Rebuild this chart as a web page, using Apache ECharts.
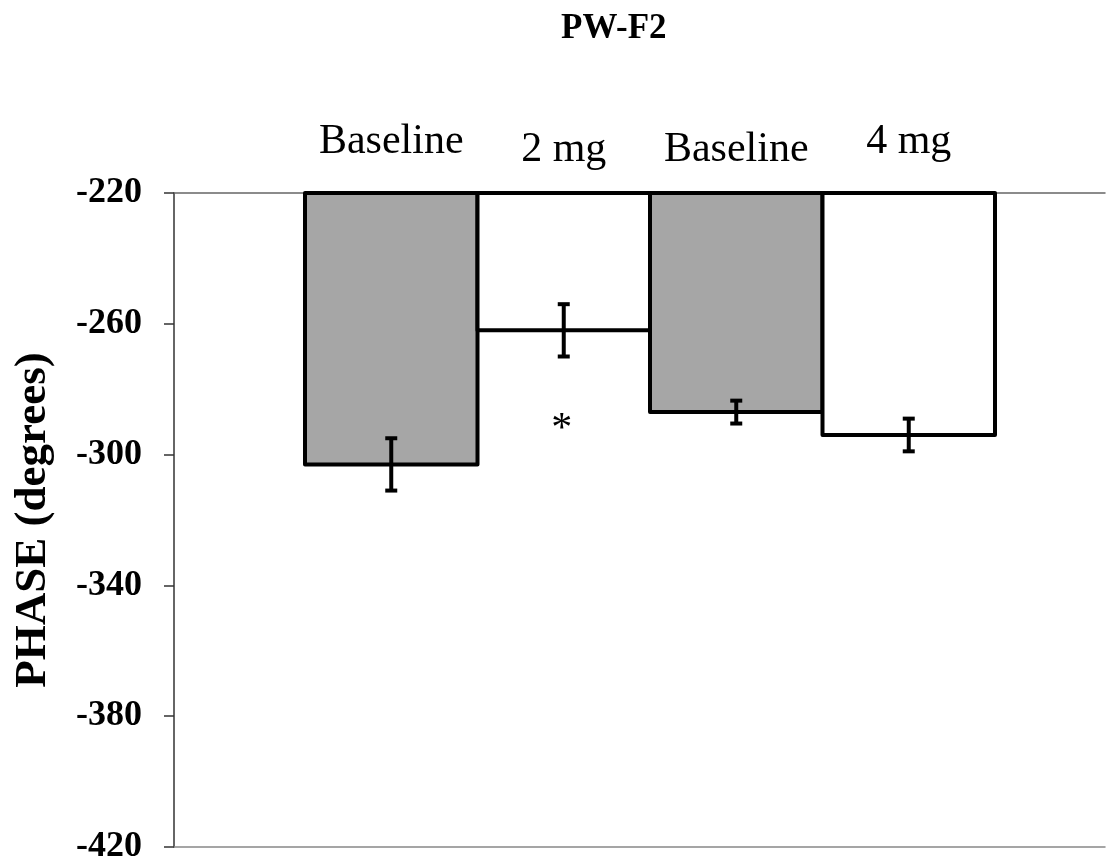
<!DOCTYPE html>
<html><head><meta charset="utf-8">
<script src="https://cdn.jsdelivr.net/npm/echarts@6/dist/echarts.min.js"></script>
<style>html,body{margin:0;padding:0;background:#fff}#c{width:1118px;height:867px}</style>
</head><body><div id="c"></div>
<script>
// ---- data ----
const chartTitle = 'PW-F2';
const categories = ['Baseline', '2 mg', 'Baseline', '4 mg'];
const phaseMeans = [-303, -262, -287, -294];
const phaseErrors = [8, 8, 3.5, 5];
const significance = ['', '*', '', ''];
const yTicks = [-420, -380, -340, -300, -260, -220];
const yAxisName = 'PHASE (degrees)';

// ---- styles ----
const barFills = ['#a6a6a6', '#ffffff', '#a6a6a6', '#ffffff'];
const labelLift = [1, 0, 0, 1];
const FONT = "'Liberation Serif', 'Times New Roman', serif";

const yMin = yTicks[0], yMax = yTicks[yTicks.length - 1], yStep = yTicks[1] - yTicks[0];

const chart = echarts.init(document.getElementById('c'), null, {renderer: 'canvas'});
const seriesData = categories.map((c, i) => [i, phaseMeans[i], phaseErrors[i]]);

chart.setOption({
  backgroundColor: '#ffffff',
  animation: false,
  title: {
    text: chartTitle, left: 556, top: 6,
    textStyle: {fontFamily: FONT, fontWeight: 'bold', fontSize: 35, color: '#000'}
  },
  grid: [
    {left: 174, right: 13, top: 193, bottom: 20},
    {left: 305, right: 123, top: 193, bottom: 20}
  ],
  xAxis: [
    {gridIndex: 0, type: 'category', data: [''], position: 'bottom',
      axisLine: {show: true, lineStyle: {color: '#888', width: 1.5}},
      axisTick: {show: false}, axisLabel: {show: false}},
    {gridIndex: 0, type: 'category', data: [''], position: 'top',
      axisLine: {show: true, lineStyle: {color: '#666', width: 1.5}},
      axisTick: {show: false}, axisLabel: {show: false}},
    {gridIndex: 1, type: 'category', data: categories, position: 'top',
      axisLine: {show: false}, axisTick: {show: false},
      axisLabel: {
        show: true, margin: 22, interval: 0,
        formatter: (v, i) => labelLift[i] ? '{hi|' + v + '}' : '{lo|' + v + '}',
        rich: {
          hi: {fontFamily: FONT, fontSize: 42, color: '#000', padding: [0, 0, 8, 0]},
          lo: {fontFamily: FONT, fontSize: 42, color: '#000', padding: [0, 0, 0, 0]}
        }
      }}
  ],
  yAxis: [
    {gridIndex: 0, type: 'value', min: yMin, max: yMax, interval: yStep,
      name: yAxisName, nameLocation: 'middle', nameGap: 118, nameRotate: 90,
      nameTextStyle: {fontFamily: FONT, fontWeight: 'bold', fontSize: 45, color: '#000'},
      axisLine: {show: true, lineStyle: {color: '#333', width: 1.5}},
      axisTick: {show: true, inside: false, length: 10, lineStyle: {color: '#333', width: 1.5}},
      axisLabel: {margin: 32, fontFamily: FONT, fontWeight: 'bold', fontSize: 36, color: '#000'},
      splitLine: {show: false}},
    {gridIndex: 1, type: 'value', min: yMin, max: yMax, interval: yStep, show: false,
      splitLine: {show: false}}
  ],
  series: [{
    type: 'custom',
    xAxisIndex: 2, yAxisIndex: 1,
    data: seriesData,
    clip: false,
    renderItem: function (params, api) {
      const i = api.value(0), v = api.value(1), e = api.value(2);
      const w = api.size([1, 0])[0];
      const top = api.coord([i, yMax]);
      const bot = api.coord([i, v]);
      const hi = api.coord([i, v + e]);
      const lo = api.coord([i, v - e]);
      const cx = top[0];
      const cap = 6;
      const children = [
        {type: 'rect', shape: {x: cx - w / 2, y: top[1], width: w, height: bot[1] - top[1]},
          style: {fill: barFills[i], stroke: '#000', lineWidth: 4, lineJoin: 'round'}},
        {type: 'line', shape: {x1: cx, y1: hi[1], x2: cx, y2: lo[1]}, style: {stroke: '#000', lineWidth: 4}},
        {type: 'line', shape: {x1: cx - cap, y1: hi[1], x2: cx + cap, y2: hi[1]}, style: {stroke: '#000', lineWidth: 4}},
        {type: 'line', shape: {x1: cx - cap, y1: lo[1], x2: cx + cap, y2: lo[1]}, style: {stroke: '#000', lineWidth: 4}}
      ];
      if (significance[i]) {
        children.push({type: 'text', style: {text: significance[i], x: cx - 2, y: lo[1] + 52,
          align: 'center', verticalAlign: 'top', font: '42px ' + FONT, fill: '#000'}});
      }
      return {type: 'group', children: children};
    }
  }]
});
</script>
</body></html>
